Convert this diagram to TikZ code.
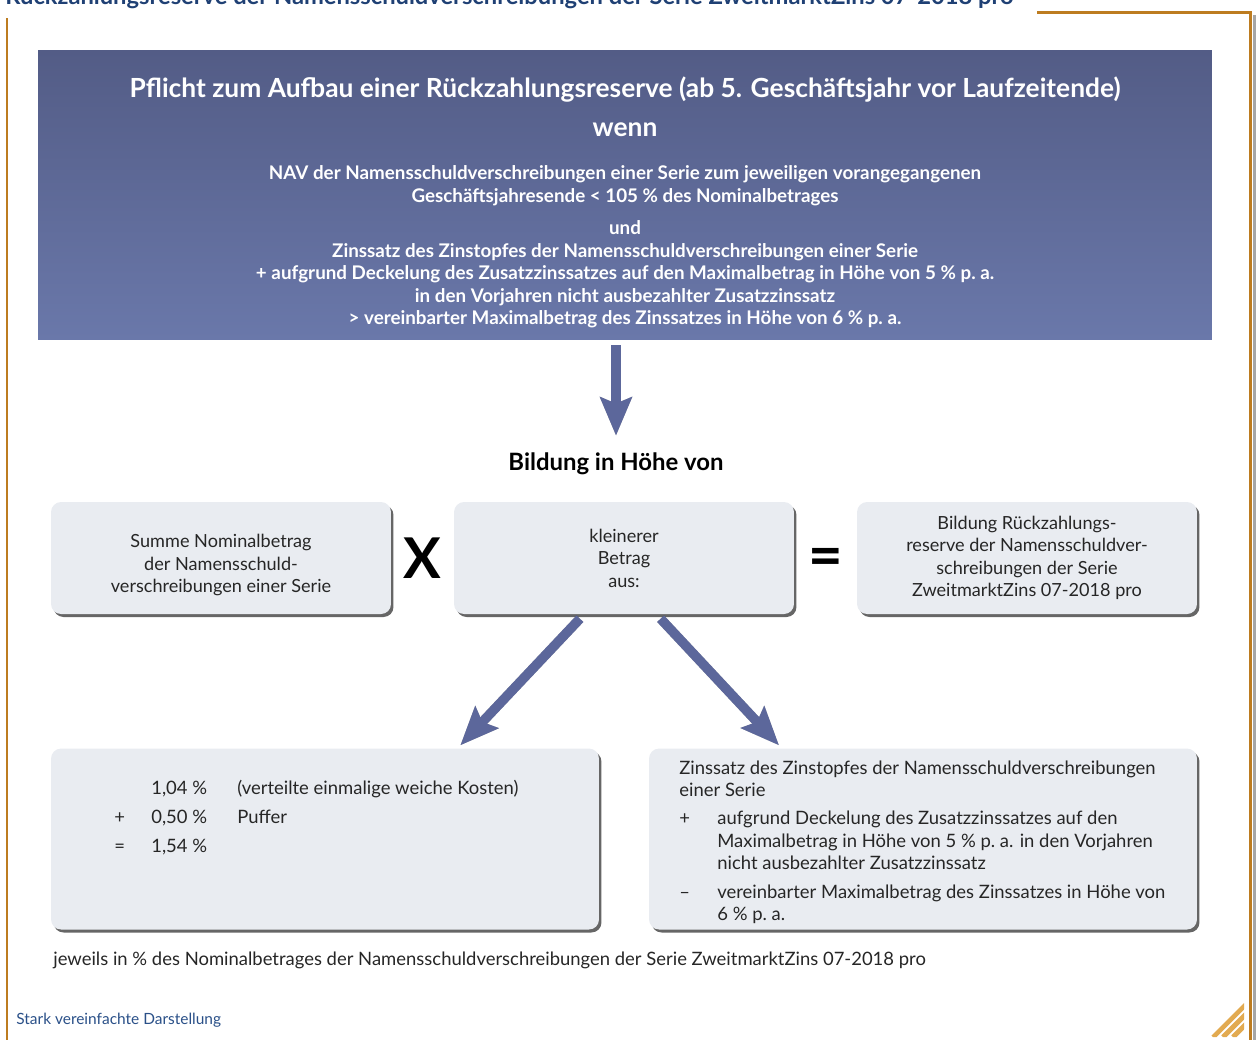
\documentclass[tikz,border=0pt]{standalone}
\usepackage{fontspec}
\setmainfont{Lato}
\usetikzlibrary{positioning,shadows,arrows.meta}

\definecolor{rahmen}{RGB}{189,124,32}
\definecolor{titelblau}{RGB}{31,64,116}
\definecolor{kopfoben}{RGB}{83,92,134}
\definecolor{kopfunten}{RGB}{106,120,170}
\definecolor{kastengrau}{RGB}{233,236,241}
\definecolor{pfeilblau}{RGB}{92,103,155}
\definecolor{logogold}{RGB}{226,170,80}
\definecolor{notizblau}{RGB}{42,80,136}

\tikzset{
  kastentext/.style={align=center, text=black!85, font=\fontsize{10.3pt}{12.8pt}\selectfont},
  kasten/.style={kastentext, rectangle, rounded corners=0.2cm, fill=kastengrau,
    drop shadow={shadow xshift=0.05cm, shadow yshift=-0.06cm, opacity=0.6, fill=black}},
  pfeil/.style={draw=pfeilblau, line width=0.19cm,
    -{Stealth[length=0.76cm, width=0.62cm, inset=0.12cm, fill=pfeilblau]}},
  pfeilschatten/.style={pfeil, draw=black, opacity=0.3, xshift=0.05cm, yshift=-0.05cm},
  fliesstext/.style={inner sep=0, text=black!85, font=\fontsize{10.5pt}{12.8pt}\selectfont}
}

\begin{document}
\begin{tikzpicture}[x=0.02cm, y=-0.02cm]
  \useasboundingbox (0,0) rectangle (1256,1039);

  % Rahmen und Titel
  \node[anchor=base west, inner sep=0, text=titelblau,
    font=\bfseries\fontsize{13.5pt}{16pt}\selectfont] (titel) at (5,4)
    {Rückzahlungsreserve der Namensschuldverschreibungen der Serie ZweitmarktZins 07-2018 pro};
  \draw[gray!70, line width=0.06cm] (1254,15) -- (1254,1045);
  \draw[rahmen, line width=0.06cm] (1037,12) -- (1250,12) -- (1250,1045);
  \draw[rahmen, line width=0.06cm] (7,18) -- (7,1045);

  % Kopfkasten
  \node[rectangle, minimum width=23.48cm, minimum height=5.8cm, inner sep=0,
    top color=kopfoben, bottom color=kopfunten] (kopf) at (625,195) {};
  \node[text=white, font=\bfseries\fontsize{15pt}{18pt}\selectfont] (pflicht) at (625,90)
    {Pflicht zum Aufbau einer Rückzahlungsreserve (ab 5. Geschäftsjahr vor Laufzeitende)};
  \node[text=white, font=\bfseries\fontsize{15pt}{18pt}\selectfont] (wenn) at (625,130) {wenn};
  \node[text=white, align=center, inner sep=0, font=\bfseries\fontsize{10.7pt}{12.8pt}\selectfont]
    (bedingung) at (625,247)
    {NAV der Namensschuldverschreibungen einer Serie zum jeweiligen vorangegangenen\\
     Geschäftsjahresende < 105 \% des Nominalbetrages\\[0.2cm]
     und\\
     Zinssatz des Zinstopfes der Namensschuldverschreibungen einer Serie\\
     + aufgrund Deckelung des Zusatzzinssatzes auf den Maximalbetrag in Höhe von 5 \% p.~a.\\
     in den Vorjahren nicht ausbezahlter Zusatzzinssatz\\
     > vereinbarter Maximalbetrag des Zinssatzes in Höhe von 6 \% p.~a.};

  \node[inner sep=0, font=\bfseries\fontsize{13.6pt}{16pt}\selectfont] (bildung) at (616,464)
    {Bildung in Höhe von};

  % obere Reihe
  \node[kasten, minimum width=6.8cm, minimum height=2.24cm] (summe) at (221,558) {};
  \node[kastentext, inner sep=0] (summetext) at (221,565)
    {Summe Nominalbetrag\\der Namensschuld-\\verschreibungen einer Serie};
  \node[kasten, minimum width=6.8cm, minimum height=2.24cm] (kleiner) at (624,558)
    {kleinerer\\Betrag\\aus:};
  \node[kasten, minimum width=6.8cm, minimum height=2.24cm] (reserve) at (1027,558)
    {Bildung Rückzahlungs-\\reserve der Namensschuldver-\\schreibungen der Serie\\ZweitmarktZins 07-2018 pro};
  \node[font=\bfseries\fontsize{32pt}{36pt}\selectfont] (mal) at (422,558) {X};
  \node[font=\bfseries\fontsize{34pt}{36pt}\selectfont] (gleich) at (826,562) {=};

  % untere Reihe
  \node[kasten, minimum width=10.96cm, minimum height=3.62cm] (links) at (325,839) {};
  \node[kasten, minimum width=10.96cm, minimum height=3.62cm] (rechts) at (923,839) {};
  \node[fliesstext, anchor=base west] (puffer) at (114,794)
    {\begin{tabular}[t]{@{}p{0.74cm}@{}p{1.72cm}@{}l@{}}
       & 1,04 \% & (verteilte einmalige weiche Kosten)\\[3.7pt]
     + & 0,50 \% & Puffer\\[3.7pt]
     = & 1,54 \% &
     \end{tabular}};
  \node[fliesstext, anchor=base west] (zinstopf) at (679,774)
    {\begin{tabular}[t]{@{}p{0.76cm}@{}l@{}}
     \multicolumn{2}{@{}l@{}}{Zinssatz des Zinstopfes der Namensschuldverschreibungen}\\
     \multicolumn{2}{@{}l@{}}{einer Serie}\\[3.4pt]
     + & aufgrund Deckelung des Zusatzzinssatzes auf den\\
       & Maximalbetrag in Höhe von 5 \% p.~a. in den Vorjahren\\
       & nicht ausbezahlter Zusatzzinssatz\\[3.4pt]
     -- & vereinbarter Maximalbetrag des Zinssatzes in Höhe von\\
        & 6 \% p.~a.
     \end{tabular}};

  % Pfeile
  \draw[pfeilschatten, shorten <=0.1cm, shorten >=0.34cm] (kopf.south -| bildung.north) -- (bildung.north);
  \draw[pfeil, shorten <=0.1cm, shorten >=0.34cm] (kopf.south -| bildung.north) -- (bildung.north);
  \draw[pfeilschatten, shorten <=0.12cm, shorten >=0.08cm]
    ([xshift=-0.8cm]kleiner.south) -- ([xshift=8.14cm]links.north west);
  \draw[pfeil, shorten <=0.12cm, shorten >=0.08cm]
    ([xshift=-0.8cm]kleiner.south) -- ([xshift=8.14cm]links.north west);
  \draw[pfeilschatten, shorten <=0.12cm, shorten >=0.08cm]
    ([xshift=0.65cm]kleiner.south) -- ([xshift=2.66cm]rechts.north west);
  \draw[pfeil, shorten <=0.12cm, shorten >=0.08cm]
    ([xshift=0.65cm]kleiner.south) -- ([xshift=2.66cm]rechts.north west);

  % Fussnoten
  \node[fliesstext, anchor=base west] (jeweils) at (53,965)
    {jeweils in \% des Nominalbetrages der Namensschuldverschreibungen der Serie ZweitmarktZins 07-2018 pro};
  \node[anchor=base west, inner sep=0, text=notizblau, font=\fontsize{8.8pt}{10pt}\selectfont]
    (vereinfacht) at (16,1024) {Stark vereinfachte Darstellung};

  % Logo
  \begin{scope}
    \clip (1210,1037) -- (1244,1037) -- (1244,1003) -- cycle;
    \foreach \d in {3,13,23}
      \draw[logogold, line width=0.1cm] (1210+\d,1037) -- ++(34,-34);
  \end{scope}
\end{tikzpicture}
\end{document}
